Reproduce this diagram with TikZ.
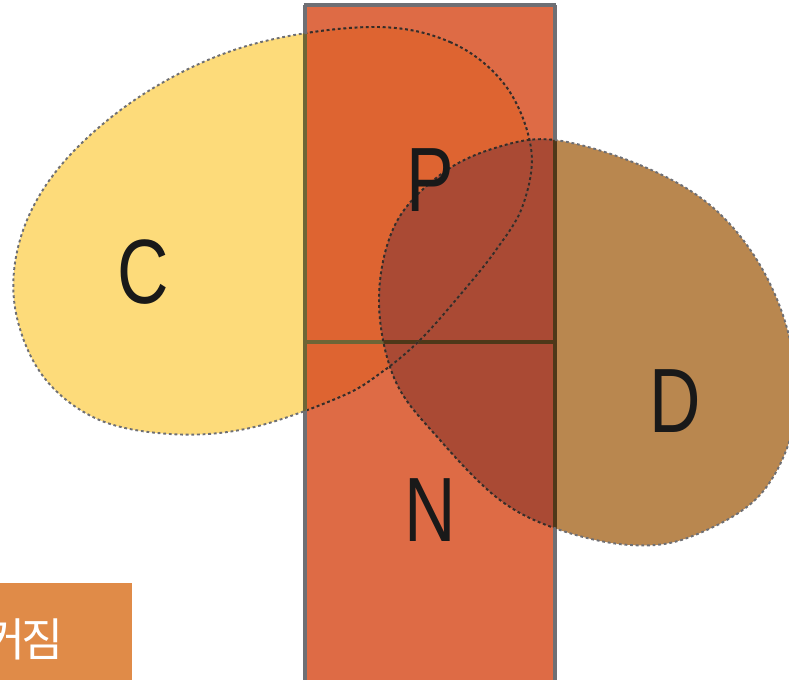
\documentclass[tikz,border=0pt]{standalone}
\usepackage{fontspec}
\setmainfont{Liberation Sans}
\newfontfamily\krfont{Noto Sans CJK KR}
\definecolor{boxorange}{HTML}{DE6B45}
\definecolor{cyellow}{HTML}{FDDB7A}
\definecolor{dbrown}{HTML}{B9874F}
\definecolor{cinbox}{HTML}{DE6431}
\definecolor{dinbox}{HTML}{AA4A34}
\definecolor{framegray}{HTML}{6E6F74}
\definecolor{frameolive}{HTML}{6E6536}
\definecolor{framebrown}{HTML}{4E3819}
\definecolor{dotdark}{HTML}{3C2A22}
\definecolor{noteorange}{HTML}{E08B48}
\newcommand{\biglabel}[1]{\scalebox{0.78}[1]{\fontsize{52}{52}\selectfont #1}}
\newcommand{\boxlines}{(305,5) -- (305,690) (555,5) -- (555,690) (303.6,5) -- (556.4,5)}
\begin{document}
\begin{tikzpicture}[x=0.02cm,y=-0.02cm,
    blob/.style={line width=1.1pt,dash pattern=on 1.6pt off 1.6pt},
    frame/.style={line width=2.8pt},
    midline/.style={line width=2.3pt},
    letter/.style={text=black!90,inner sep=0pt}]
    \useasboundingbox (0,0) rectangle (789,680);

    % outlines of the two blobs
    \path[save path=\cpath] plot[smooth cycle,tension=0.6] coordinates {
        (370,27) (450,42) (505,85) (531,148) (523,205) (496,250) (460,295)
        (420,340) (382,372) (340,397) (250,428) (170,434) (95,418) (40,372)
        (14,300) (25,225) (70,155) (150,90) (250,45)};
    \path[save path=\dpath] plot[smooth cycle,tension=0.6] coordinates {
        (555,140) (640,165) (710,205) (760,265) (790,340) (795,420) (760,495)
        (690,537) (630,545) (560,530) (500,500) (440,440) (395,380) (379,300)
        (395,225) (440,175) (495,148)};

    \fill[cyellow,use path=\cpath];
    \fill[dbrown,use path=\dpath];

    % the split box, darker where the blobs cross it
    \fill[boxorange] (305,5) rectangle (555,690);
    \begin{scope}
        \clip (305,5) rectangle (555,690);
        \fill[cinbox,use path=\cpath];
        \fill[dinbox,use path=\dpath];
    \end{scope}
    \draw[framegray,frame] \boxlines;
    \begin{scope}
        \clip[use path=\cpath];
        \draw[frameolive,frame] \boxlines;
        \draw[frameolive,midline] (305,342) -- (555,342);
    \end{scope}
    \begin{scope}
        \clip[use path=\dpath];
        \draw[framebrown,frame] \boxlines;
        \draw[framebrown,midline] (305,342) -- (555,342);
    \end{scope}

    \draw[blob,framegray,use path=\cpath];
    \draw[blob,framegray,use path=\dpath];
    \begin{scope}
        \clip (307,7) rectangle (553,690);
        \draw[blob,dotdark,use path=\cpath];
        \draw[blob,dotdark,use path=\dpath];
    \end{scope}

    \node[letter] (c) at (143,272) {\biglabel{C}};
    \node[letter] (p) at (430,180) {\biglabel{P}};
    \node[letter] (d) at (675,401) {\biglabel{D}};
    \node[letter] (n) at (430,510) {\biglabel{N}};

    % note at the lower left
    \fill[noteorange] (-10,583) rectangle (132,690);
    \node[anchor=east,text=white,inner sep=0pt] (note) at (64,639) {\krfont\fontsize{26}{26}\selectfont 커\kern-2pt 짐};
\end{tikzpicture}
\end{document}
